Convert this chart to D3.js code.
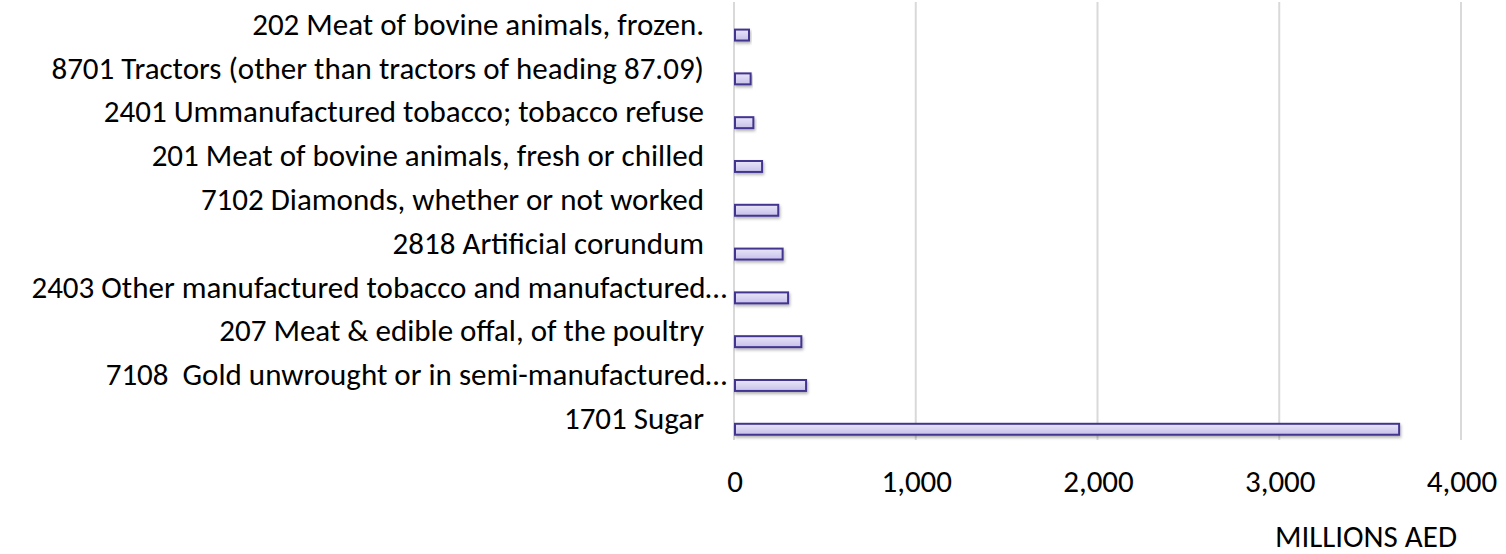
<!DOCTYPE html>
<html>
<head>
<meta charset="utf-8">
<script src="https://cdn.jsdelivr.net/npm/d3@7"></script>
<style>
  body { margin: 0; background: #fff; }
  svg text { font-family: Carlito, Calibri, Lato, sans-serif; fill: #000; white-space: pre; }
</style>
</head>
<body>
<svg id="chart" width="1506" height="554"></svg>
<script>
// top to bottom, as in the chart
var categories = [
    "202 Meat of bovine animals, frozen.",
    "8701 Tractors (other than tractors of heading 87.09)",
    "2401 Ummanufactured tobacco; tobacco refuse",
    "201 Meat of bovine animals, fresh or chilled",
    "7102 Diamonds, whether or not worked",
    "2818 Artificial corundum",
    "2403 Other manufactured tobacco and manufactured…",
    "207 Meat & edible offal, of the poultry",
    "7108  Gold unwrought or in semi-manufactured…",
    "1701 Sugar"
];
var values = [77, 86, 101, 149, 238, 262, 292, 365, 391, 3654];
var xTicks = [0, 1000, 2000, 3000, 4000];
var axisTitle = "MILLIONS AED";

var svg = d3.select("#chart");
var fontSize = 31;

var x = d3.scaleLinear().domain([0, 4000]).range([735, 1462]);
var y = d3.scaleBand().domain(categories).range([2, 440]);
var bw = y.bandwidth();

var defs = svg.append("defs");
var grad = defs.append("linearGradient")
    .attr("id", "barFill")
    .attr("x1", 0).attr("y1", 0).attr("x2", 0).attr("y2", 1);
grad.append("stop").attr("offset", "0%").attr("stop-color", "#e9e6f8");
grad.append("stop").attr("offset", "100%").attr("stop-color", "#c6c0ea");

var shadow = defs.append("filter").attr("id", "shadow")
    .attr("x", "-5%").attr("y", "-50%").attr("width", "120%").attr("height", "250%");
shadow.append("feDropShadow")
    .attr("dx", 1).attr("dy", 2).attr("stdDeviation", 1.5)
    .attr("flood-color", "#000").attr("flood-opacity", 0.3);

// gridlines
svg.append("g")
    .selectAll("line")
    .data(xTicks)
    .enter().append("line")
    .attr("x1", function (d) { return x(d) - 1; })
    .attr("x2", function (d) { return x(d) - 1; })
    .attr("y1", 2)
    .attr("y2", 440)
    .attr("stroke", "#d9d9d9")
    .attr("stroke-width", 2);

// bars sit in the lower part of each category band
svg.append("g")
    .selectAll("rect")
    .data(categories)
    .enter().append("rect")
    .attr("x", x(0))
    .attr("y", function (d) { return y(d) + bw * 0.63; })
    .attr("width", function (d, i) { return x(values[i]) - x(0); })
    .attr("height", bw * 0.25)
    .attr("fill", "url(#barFill)")
    .attr("stroke", "#43358f")
    .attr("stroke-width", 2)
    .attr("filter", "url(#shadow)");

// category labels
svg.append("g")
    .selectAll("text")
    .data(categories)
    .enter().append("text")
    .attr("x", function (d) { return d.slice(-1) === "…" ? 727 : 704; })
    .attr("y", function (d) { return y(d) + bw / 2; })
    .attr("dy", "0.35em")
    .attr("text-anchor", "end")
    .style("font-size", fontSize + "px")
    .text(function (d) { return d; });

// tick labels
svg.append("g")
    .selectAll("text")
    .data(xTicks)
    .enter().append("text")
    .attr("x", function (d) { return x(d); })
    .attr("y", 481)
    .attr("dy", "0.35em")
    .attr("text-anchor", "middle")
    .style("font-size", fontSize + "px")
    .text(function (d) { return d3.format(",")(d); });

svg.append("text")
    .attr("x", 1457)
    .attr("y", 547)
    .attr("text-anchor", "end")
    .style("font-size", fontSize + "px")
    .text(axisTitle);
</script>
</body>
</html>
